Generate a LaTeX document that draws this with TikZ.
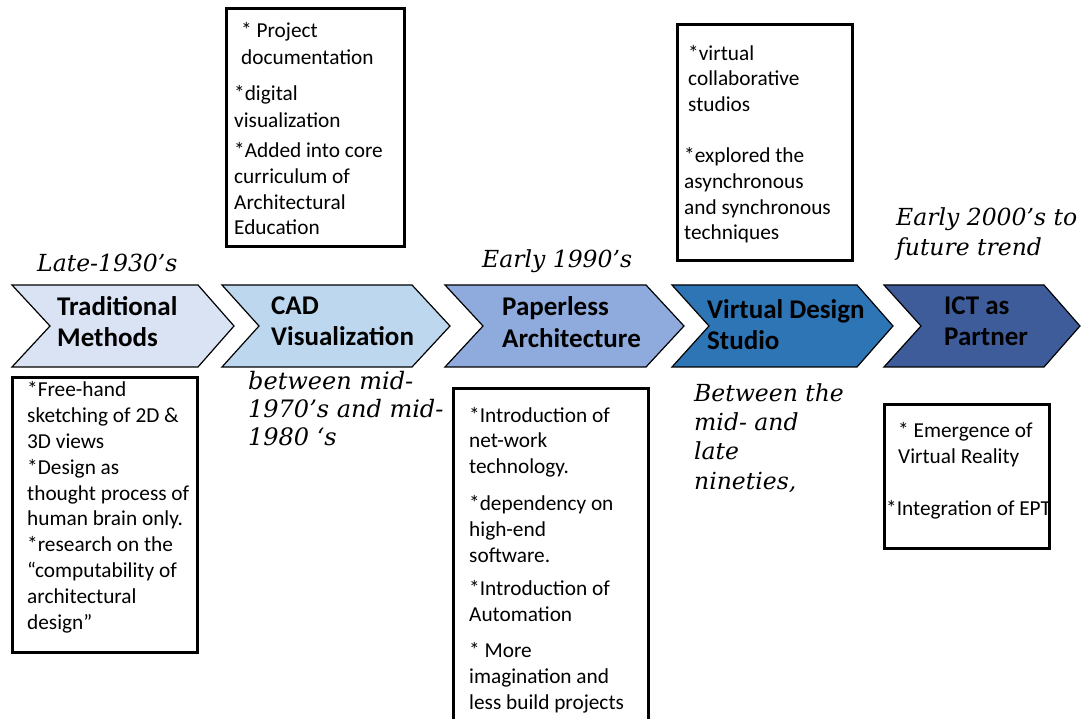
\documentclass[tikz,border=0pt]{standalone}
\usepackage{fontspec}
\setmainfont{Carlito}
\newfontfamily\datefont{DejaVu Serif}
\usepackage{tikz}

\definecolor{phaseA}{HTML}{DAE3F3}
\definecolor{phaseB}{HTML}{BDD7EE}
\definecolor{phaseC}{HTML}{8FAADC}
\definecolor{phaseD}{HTML}{2E75B6}
\definecolor{phaseE}{HTML}{3D5C99}

\tikzset{
  phase/.style={draw=black,line width=1.2pt,line join=miter},
  phasetext/.style={font=\fontsize{27}{32}\selectfont\bfseries,align=left,anchor=base west,inner sep=0pt},
  notebox/.style={draw=black,line width=3pt},
  notetext/.style={font=\fontsize{21.3}{25.8}\selectfont,align=left,anchor=base west,inner sep=0pt},
  eratext/.style={font=\datefont\itshape\fontsize{23.5}{29}\selectfont,align=left,anchor=base west,inner sep=0pt}
}

\begin{document}
\begin{tikzpicture}[x=1pt,y=-1pt]
\useasboundingbox (0,0) rectangle (1082,719);
% chevrons
\draw[phase,fill=phaseA] (12,285) -- (198,285) -- (234,326) -- (198,367) -- (12,367) -- (50,326) -- cycle;
\draw[phase,fill=phaseB] (222,285) -- (412,285) -- (450,326) -- (412,367) -- (222,367) -- (259,326) -- cycle;
\draw[phase,fill=phaseC] (445,285) -- (646,285) -- (684,326) -- (646,367) -- (445,367) -- (483,326) -- cycle;
\draw[phase,fill=phaseD] (672,285) -- (857,285) -- (893,326) -- (857,367) -- (672,367) -- (709,326) -- cycle;
\draw[phase,fill=phaseE] (884,285) -- (1044,285) -- (1080,326) -- (1044,367) -- (884,367) -- (921,326) -- cycle;
% (base anchor = last line)
\node[phasetext] (trad) at (57,347) {Traditional\\Methods};
\node[phasetext] (cad) at (271,346) {CAD\\Visualization};
\node[phasetext] (paperless) at (502,348) {Paperless\\Architecture};
\node[phasetext] (vds) at (707,350) {Virtual Design\\Studio};
\node[phasetext] (ict) at (944,346) {ICT as\\Partner};
% dates
\node[eratext] (late30) at (37,272) {Late-1930’s};
\node[eratext,font=\datefont\itshape\fontsize{24}{28}\selectfont] (mid70) at (248,445) {between mid-\\1970’s and mid-\\1980 ‘s};
\node[eratext] (early90) at (482,268) {Early 1990’s};
\node[eratext,font=\datefont\itshape\fontsize{23.5}{29.3}\selectfont] (late90) at (694,489) {Between the\\mid- and\\late\\nineties,};
\node[eratext,font=\datefont\itshape\fontsize{23.5}{30}\selectfont] (early00) at (896,256) {Early 2000’s to\\future trend};
% notes
\draw[notebox] (12,377) rectangle (197,652);
\node[notetext] (tradnotes) at (27,629) {*Free-hand\\sketching of 2D \&\\3D views\\*Design as\\thought process of\\human brain only.\\*research on the\\“computability of\\architectural\\design”};
\draw[notebox] (226,9) rectangle (404,247);
\node[notetext] (cadnotes) at (234,235) {\hspace*{7pt}* Project\\[1pt]\hspace*{7pt}documentation\\[11pt]*digital\\[1pt]visualization\\[4pt]*Added into core\\curriculum of\\Architectural\\Education};
\draw[notebox] (453,388) rectangle (648,730);
\node[notetext] (papernotes) at (469,709) {*Introduction of\\net-work\\technology.\\[11pt]*dependency on\\high-end\\software.\\[8pt]*Introduction of\\Automation\\[10pt]* More\\imagination and\\less build projects};
\draw[notebox] (677,25) rectangle (852,261);
\node[notetext] (vdsnotes) at (684,240) {\hspace*{4pt}*virtual\\\hspace*{4pt}collaborative\\\hspace*{4pt}studios\\[25pt]*explored the\\asynchronous\\and synchronous\\techniques};
\draw[notebox] (884,404) rectangle (1049,548);
\node[notetext] (ictnotes) at (886,515) {\hspace*{12pt}* Emergence of\\\hspace*{12pt}Virtual Reality\\[26pt]*Integration of EPT};
\end{tikzpicture}
\end{document}
